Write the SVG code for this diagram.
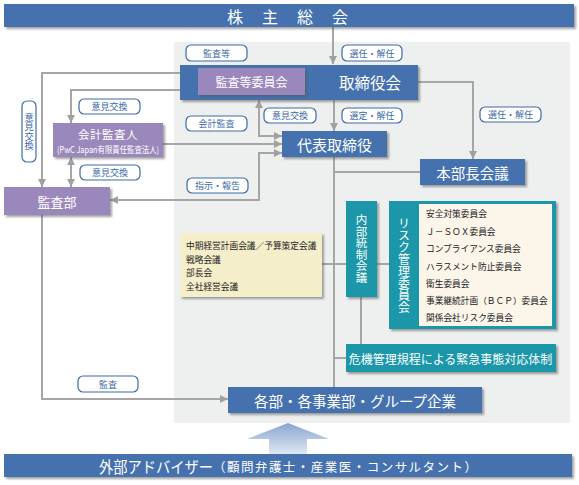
<svg xmlns="http://www.w3.org/2000/svg" width="579" height="485" viewBox="0 0 579 485">
<defs>
<style>
text{font-family:"Noto Sans CJK JP","Noto Sans",sans-serif;}
.blue{fill:#4472ae;}
.purple{fill:#9a88bd;}
.teal{fill:#1a97a9;}
.wt{fill:#ffffff;text-anchor:middle;dominant-baseline:central;}
.vt{fill:#ffffff;text-anchor:middle;writing-mode:vertical-rl;}
.lbl rect{fill:#ffffff;stroke:#3d6aa6;stroke-width:1.2;}
.lbl text{fill:#3d6aa6;font-size:9px;text-anchor:middle;dominant-baseline:central;}
.item{fill:#222222;font-size:8.7px;dominant-baseline:central;}
.conn path,.conn line{fill:none;stroke:#a6a6a6;stroke-width:2;}
</style>
<filter id="sh" x="-10%" y="-20%" width="130%" height="150%">
<feDropShadow dx="2" dy="2" stdDeviation="1.2" flood-color="#555555" flood-opacity="0.55"/>
</filter>
<marker id="ah" markerUnits="userSpaceOnUse" markerWidth="9" markerHeight="9" refX="8" refY="4" orient="auto-start-reverse">
<path d="M0,0 L8,4 L0,8 z" fill="#a0a0a0"/>
</marker>
<linearGradient id="ag" x1="0" y1="0" x2="0" y2="1">
<stop offset="0" stop-color="#89a6cf"/>
<stop offset="1" stop-color="#dfe7f3"/>
</linearGradient>
</defs>

<rect x="174" y="42" width="396" height="381" fill="#edf0ee"/>

<g class="conn">
<line x1="333" y1="27" x2="333" y2="64" marker-end="url(#ah)"/>
<line x1="334" y1="100" x2="334" y2="131" marker-end="url(#ah)"/>
<path d="M418,82 H473 V159" marker-end="url(#ah)"/>
<path d="M198,73 H42 V187" marker-start="url(#ah)" marker-end="url(#ah)"/>
<path d="M198,90 H71 V123" marker-start="url(#ah)" marker-end="url(#ah)"/>
<line x1="71" y1="157" x2="71" y2="187" marker-start="url(#ah)" marker-end="url(#ah)"/>
<line x1="163" y1="144" x2="282" y2="144" marker-end="url(#ah)"/>
<path d="M259,100 V136 H282" marker-start="url(#ah)" marker-end="url(#ah)"/>
<path d="M110,200 H259 V153 H282" marker-start="url(#ah)" marker-end="url(#ah)"/>
<line x1="334" y1="157" x2="334" y2="387"/>
<line x1="334" y1="172" x2="420" y2="172"/>
<line x1="322" y1="264" x2="346" y2="264"/>
<line x1="377" y1="264" x2="389" y2="264"/>
<line x1="361" y1="297" x2="361" y2="344"/>
<line x1="334" y1="358" x2="346" y2="358"/>
<path d="M42,215 V399 H228" marker-end="url(#ah)"/>
</g>

<g id="shareholders">
<rect x="4" y="4" width="570" height="23" class="blue" filter="url(#sh)"/>
<text class="wt" font-size="16" y="16"><tspan x="235">株</tspan><tspan x="270">主</tspan><tspan x="305">総</tspan><tspan x="340">会</tspan></text>
</g>

<g id="board">
<rect x="180" y="65" width="238" height="35" class="blue" filter="url(#sh)"/>
<text class="wt" x="370" y="82" font-size="15.5">取締役会</text>
</g>

<g id="audit-committee">
<rect x="198" y="68" width="107" height="27" class="purple" filter="url(#sh)"/>
<text class="wt" x="251.5" y="81.5" font-size="12">監査等委員会</text>
</g>

<g id="accounting-auditor">
<rect x="53" y="123" width="110" height="34" class="purple" filter="url(#sh)"/>
<text class="wt" x="108" y="133.5" font-size="11.5" letter-spacing="0.5">会計監査人</text>
<text class="wt" x="108" y="149" font-size="9" textLength="102" lengthAdjust="spacingAndGlyphs">(PwC Japan有限責任監査法人)</text>
</g>

<g id="internal-audit">
<rect x="4" y="187" width="106" height="28" class="purple" filter="url(#sh)"/>
<text class="wt" x="57" y="201" font-size="13">監査部</text>
</g>

<g id="president">
<rect x="282" y="131" width="105" height="26" class="blue" filter="url(#sh)"/>
<text class="wt" x="334.5" y="144" font-size="15">代表取締役</text>
</g>

<g id="general-managers">
<rect x="420" y="159" width="105" height="26" class="blue" filter="url(#sh)"/>
<text class="wt" x="472.5" y="172" font-size="14.5">本部長会議</text>
</g>

<g id="meetings">
<rect x="180" y="233" width="142" height="64" fill="#f5eecb" filter="url(#sh)"/>
<text class="item" x="186" y="245">中期経営計画会議／予算策定会議</text>
<text class="item" x="186" y="259">戦略会議</text>
<text class="item" x="186" y="272">部長会</text>
<text class="item" x="186" y="286">全社経営会議</text>
</g>

<g id="internal-control">
<rect x="346" y="201" width="31" height="96" class="teal" filter="url(#sh)"/>
<text class="vt" x="361.5" y="248.5" font-size="11.5">内部統制会議</text>
</g>

<g id="risk-committee">
<rect x="389" y="201" width="167" height="128" class="teal" filter="url(#sh)"/>
<rect x="419" y="204" width="133" height="122" fill="#fbf5ea"/>
<text class="vt" x="404" y="265.5" font-size="12">リスク管理委員会</text>
<text class="item" x="426" y="213">安全対策委員会</text>
<text class="item" x="426" y="231">Ｊ－ＳＯＸ委員会</text>
<text class="item" x="426" y="248">コンプライアンス委員会</text>
<text class="item" x="426" y="266">ハラスメント防止委員会</text>
<text class="item" x="426" y="283">衛生委員会</text>
<text class="item" x="426" y="300">事業継続計画（ＢＣＰ）委員会</text>
<text class="item" x="426" y="317">関係会社リスク委員会</text>
</g>

<g id="crisis">
<rect x="346" y="344" width="210" height="28" class="teal" filter="url(#sh)"/>
<text class="wt" x="450.5" y="358" font-size="12">危機管理規程による緊急事態対応体制</text>
</g>

<g id="departments">
<rect x="228" y="387" width="254" height="26" class="blue" filter="url(#sh)"/>
<text class="wt" x="355" y="400" font-size="14.5">各部・各事業部・グループ企業</text>
</g>

<g id="external-advisors">
<path d="M288,423 L329,439 H307 V454 H269 V439 H247 Z" fill="url(#ag)"/>
<rect x="4" y="454" width="568" height="23" class="blue" filter="url(#sh)"/>
<text x="99" y="466" font-size="15.5" fill="#ffffff" dominant-baseline="central" textLength="114" lengthAdjust="spacingAndGlyphs">外部アドバイザー</text>
<text x="213" y="466" font-size="12.5" fill="#ffffff" dominant-baseline="central" textLength="264" lengthAdjust="spacing">（顧問弁護士・産業医・コンサルタント）</text>
</g>

<g id="labels">
<g class="lbl"><rect x="186" y="45" width="61" height="16" rx="5"/><text x="216.5" y="53">監査等</text></g>
<g class="lbl"><rect x="342" y="45" width="60" height="16" rx="5"/><text x="372" y="53">選任・解任</text></g>
<g class="lbl"><rect x="264" y="108" width="52" height="15" rx="5"/><text x="290" y="115.5">意見交換</text></g>
<g class="lbl"><rect x="342" y="108" width="60" height="15" rx="5"/><text x="372" y="115.5">選定・解任</text></g>
<g class="lbl"><rect x="186" y="116" width="61" height="15" rx="5"/><text x="216.5" y="123.5">会計監査</text></g>
<g class="lbl"><rect x="79" y="99" width="61" height="15" rx="5"/><text x="109.5" y="106.5">意見交換</text></g>
<g class="lbl"><rect x="80" y="165" width="60" height="15" rx="5"/><text x="110" y="172.5">意見交換</text></g>
<g class="lbl"><rect x="187" y="178" width="61" height="15" rx="5"/><text x="217.5" y="185.5">指示・報告</text></g>
<g class="lbl"><rect x="480" y="107" width="61" height="15" rx="5"/><text x="510.5" y="114.5">選任・解任</text></g>
<g class="lbl"><rect x="78" y="376" width="60" height="16" rx="5"/><text x="108" y="384">監査</text></g>
<g class="lbl"><rect x="22" y="101" width="14" height="61" rx="5"/><text x="29" y="131.5" style="writing-mode:vertical-rl;dominant-baseline:auto;font-size:9.25px">意見交換</text></g>
</g>
</svg>
